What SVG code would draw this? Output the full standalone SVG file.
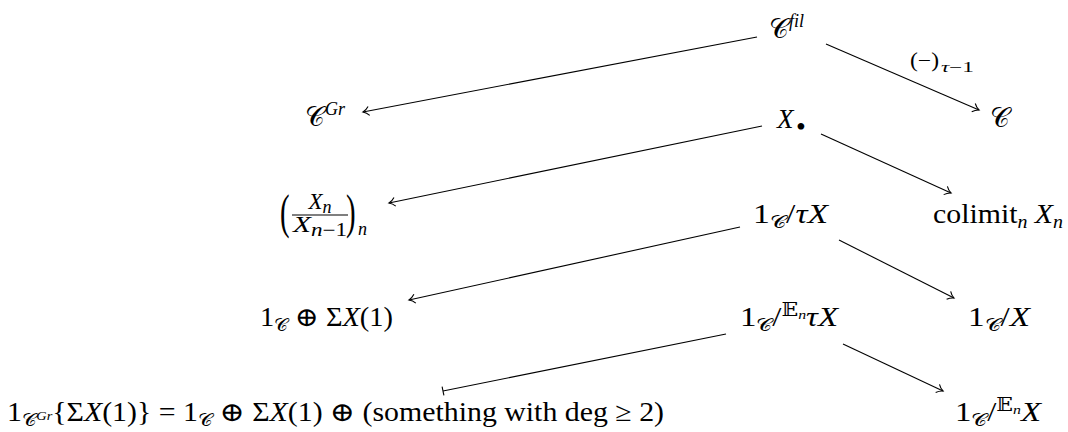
<svg xmlns="http://www.w3.org/2000/svg" width="1068" height="432" viewBox="0 0 1068 432">
<defs>
<style>
.m{font-family:"Liberation Serif","DejaVu Serif",serif;font-size:27px;fill:#000}
.i{font-style:italic}
.s{font-size:18px}
.ss{font-size:13px}
.cal{font-family:"DejaVu Serif","DejaVu Sans",serif}
.e{stroke:#000;stroke-width:1.1;fill:none}
</style>
<marker id="ah" markerUnits="userSpaceOnUse" viewBox="-8 -6 10 12" refX="0" refY="0" markerWidth="10" markerHeight="12" orient="auto" overflow="visible">
<path d="M-6,-4.5 C-4,-2 -1.5,-0.6 0,0 C-1.5,0.6 -4,2 -6,4.5" fill="none" stroke="#000" stroke-width="1.1"/>
</marker>
<marker id="bar" markerUnits="userSpaceOnUse" viewBox="-2 -6 4 12" refX="0" refY="0" markerWidth="4" markerHeight="12" orient="auto" overflow="visible">
<path d="M0,-4.5 L0,4.5" fill="none" stroke="#000" stroke-width="1.1"/>
</marker>
</defs>
<rect width="1068" height="432" fill="#fff"/>

<g id="edges">
<path class="e" d="M757,37 L363,112" marker-end="url(#ah)"/>
<path class="e" d="M826,44 L979,110" marker-end="url(#ah)"/>
<path class="e" d="M762,126 L389,203" marker-end="url(#ah)"/>
<path class="e" d="M821,134 L951,193" marker-end="url(#ah)"/>
<path class="e" d="M740,227 L409,300" marker-end="url(#ah)"/>
<path class="e" d="M839,240 L954,298" marker-end="url(#ah)"/>
<path class="e" d="M726,334 L443,391" marker-end="url(#bar)"/>
<path class="e" d="M843,344 L943,391" marker-end="url(#ah)"/>
<g id="label-tau">
<text class="m" x="910" y="67" style="font-size:20px" textLength="29" lengthAdjust="spacingAndGlyphs">(−)</text>
<text class="m" x="941" y="72" style="font-size:14px" textLength="33" lengthAdjust="spacingAndGlyphs"><tspan class="i">τ</tspan>−1</text>
</g>
</g>

<g id="n-cfil"><text class="m" x="769" y="38"><tspan class="cal">𝒞</tspan><tspan class="s i" dy="-11">fil</tspan></text></g>
<g id="n-cgr"><text class="m" x="305" y="126"><tspan class="cal">𝒞</tspan><tspan class="s i" dy="-11">Gr</tspan></text></g>
<g id="n-c"><text class="m cal" x="990" y="127">𝒞</text></g>
<g id="n-xbullet"><text class="m" x="777" y="128"><tspan class="i">X</tspan><tspan x="796" style="font-size:28px" dy="8">•</tspan></text></g>

<g id="n-quot">
<text class="m" transform="translate(280,228) scale(0.6,1)" style="font-size:48px">(</text>
<text class="m" x="320" y="209" text-anchor="middle" style="font-size:23px"><tspan class="i">X</tspan><tspan class="s i" dy="4">n</tspan></text>
<line x1="292" y1="215" x2="348" y2="215" stroke="#000" stroke-width="1.1"/>
<text class="m" x="293" y="232" style="font-size:23px" textLength="54" lengthAdjust="spacingAndGlyphs"><tspan class="i">X</tspan><tspan class="s" dy="4"><tspan class="i">n</tspan>−1</tspan></text>
<text class="m" transform="translate(346,228) scale(0.6,1)" style="font-size:48px">)</text>
<text class="m s i" x="358" y="235">n</text>
</g>

<g id="n-colimit"><text class="m" x="933" y="223" textLength="130" lengthAdjust="spacingAndGlyphs">colimit<tspan class="s i" dy="5">n</tspan><tspan class="i" dy="-5"> X</tspan><tspan class="s i" dy="5">n</tspan></text></g>
<g id="n-quottau"><text class="m" x="753" y="223" textLength="75" lengthAdjust="spacingAndGlyphs">1<tspan class="s cal" dy="5">𝒞</tspan><tspan dy="-5">/</tspan><tspan class="i">τX</tspan></text></g>
<g id="n-sum"><text class="m" x="260" y="326" textLength="133" lengthAdjust="spacingAndGlyphs">1<tspan class="s cal" dy="5">𝒞</tspan><tspan dy="-5"> ⊕ Σ</tspan><tspan class="i">X</tspan>(1)</text></g>
<g id="n-entau"><text class="m" x="740" y="326" textLength="98" lengthAdjust="spacingAndGlyphs">1<tspan class="s cal" dy="5">𝒞</tspan><tspan dy="-5">/</tspan><tspan class="s" dy="-10">𝔼</tspan><tspan class="ss i" dy="3">n</tspan><tspan class="i" dy="7">τX</tspan></text></g>
<g id="n-quotx"><text class="m" x="968" y="326" textLength="62" lengthAdjust="spacingAndGlyphs">1<tspan class="s cal" dy="5">𝒞</tspan><tspan dy="-5">/</tspan><tspan class="i">X</tspan></text></g>
<g id="n-free"><text class="m" x="7" y="421" textLength="657" lengthAdjust="spacingAndGlyphs">1<tspan class="s cal" dy="5">𝒞</tspan><tspan class="ss i" dy="-6">Gr</tspan><tspan dy="1">{Σ</tspan><tspan class="i">X</tspan>(1)} = 1<tspan class="s cal" dy="5">𝒞</tspan><tspan dy="-5"> ⊕ Σ</tspan><tspan class="i">X</tspan>(1) ⊕ (something with  deg ≥ 2)</text></g>
<g id="n-enx"><text class="m" x="955" y="421" textLength="86" lengthAdjust="spacingAndGlyphs">1<tspan class="s cal" dy="5">𝒞</tspan><tspan dy="-5">/</tspan><tspan class="s" dy="-10">𝔼</tspan><tspan class="ss i" dy="3">n</tspan><tspan class="i" dy="7">X</tspan></text></g>
</svg>
